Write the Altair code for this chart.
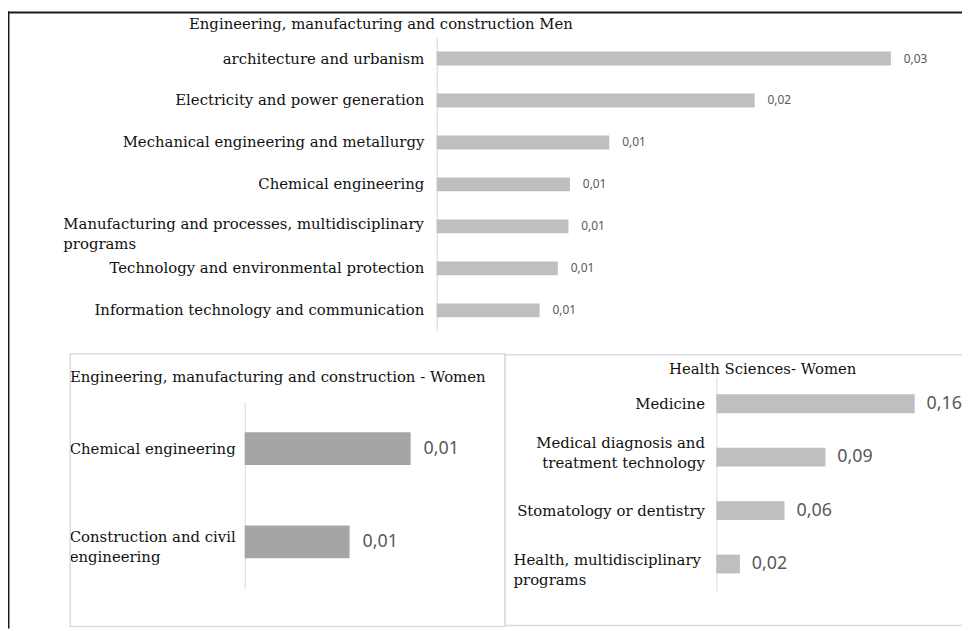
import altair as alt
import pandas as pd

# ---------------- data ----------------
men_cats = [
    "architecture and urbanism",
    "Electricity and power generation",
    "Mechanical engineering and metallurgy",
    "Chemical engineering",
    "Manufacturing and processes, multidisciplinary|programs",
    "Technology and environmental protection",
    "Information technology and communication",
]
men_vals = [0.030, 0.021, 0.0114, 0.0088, 0.0087, 0.0080, 0.0068]
men_labels = ["0,03", "0,02", "0,01", "0,01", "0,01", "0,01", "0,01"]

weng_cats = ["Chemical engineering", "Construction and civil|engineering"]
weng_vals = [0.0125, 0.0079]
weng_labels = ["0,01", "0,01"]

health_cats = [
    "Medicine",
    "Medical diagnosis and|treatment technology",
    "Stomatology or dentistry",
    "Health, multidisciplinary|programs",
]
health_vals = [0.16, 0.088, 0.055, 0.019]
health_labels = ["0,16", "0,09", "0,06", "0,02"]

titles = [
    "Engineering, manufacturing and construction Men",
    "Engineering, manufacturing and construction - Women",
    "Health Sciences- Women",
]

SERIF = "DejaVu Serif"
SANS = "Noto Sans"
TXT = "#111111"
FS = 15
MULTI = "indexof(datum.value, '|') >= 0"


def panel(cats, vals, labels, xdom, xrange, yrange, bar_h, bar_color,
          axis_offset, label_pad, val_size, dx, align_test, align_pad, label_offset):
    df = pd.DataFrame({"cat": cats, "v": vals, "lbl": labels})
    yaxis = alt.Axis(
        orient="left",
        offset=axis_offset,
        title=None,
        ticks=False,
        grid=False,
        domainColor="#d9d9d9",
        domainWidth=1,
        labelFont=SERIF,
        labelFontSize=FS,
        labelColor=TXT,
        labelLimit=600,
        labelExpr="split(datum.label, '|')",
        labelLineHeight=20,
        labelBaseline="middle",
        labelAlign={"condition": {"test": align_test, "value": "left"}, "value": "right"},
        labelPadding={"condition": {"test": align_test, "value": align_pad}, "value": label_pad},
        labelOffset=label_offset,
    )
    y = alt.Y("cat:N", scale=alt.Scale(domain=cats, range=yrange, paddingInner=0, paddingOuter=0),
              axis=yaxis, sort=None)
    x = alt.X("v:Q", scale=alt.Scale(domain=xdom, range=xrange, nice=False, zero=True), axis=None)
    bars = alt.Chart(df).mark_bar(height=bar_h, color=bar_color).encode(x=x, y=y)
    text = alt.Chart(df).mark_text(
        align="left", baseline="middle", dx=dx, font=SANS, fontSize=val_size, color="#595959"
    ).encode(x=x, y=y, text="lbl:N")
    return alt.layer(bars, text)


top = panel(men_cats, men_vals, men_labels, [0, 0.03], [432.3, 890.3], [27.2, 323.4], 14, "#bfbfbf",
            -432.3, 13, 12, 13, MULTI, 377,
            {"condition": {"test": MULTI, "value": -2}, "value": 0})

bl = panel(weng_cats, weng_vals, weng_labels, [0, 0.015], [238.7, 439.5], [394.7, 582.7], 33, "#a5a5a5",
           -238.7, 11, 18, 13, "true", 177,
           {"condition": {"test": MULTI, "value": -5}, "value": 0})

br = panel(health_cats, health_vals, health_labels, [0, 0.2], [714.3, 964.3], [369.5, 585.0], 19, "#bfbfbf",
           -714.3, 12, 18, 12, "indexof(datum.value, 'Health') === 0", 205,
           {"condition": [
               {"test": "indexof(datum.value, 'Medical') === 0", "value": -14},
               {"test": "indexof(datum.value, 'Health') === 0", "value": -4},
           ], "value": 0})

one = pd.DataFrame({"a": [0]})


def title_text(t, xpos, ypos):
    return alt.Chart(pd.DataFrame({"t": [t]})).mark_text(
        font=SERIF, fontSize=FS, color=TXT, align="center", baseline="middle"
    ).encode(text="t:N", x=alt.value(xpos), y=alt.value(ypos))


t1 = title_text(titles[0], 376, 13.7)
t2 = title_text(titles[1], 272, 369.3)
t3 = title_text(titles[2], 761, 361.3)

box_l = alt.Chart(one).mark_rect(fillOpacity=0, stroke="#dcdcdc", strokeWidth=1.5).encode(
    x=alt.value(62.7), x2=alt.value(501), y=alt.value(346), y2=alt.value(621))
box_r = alt.Chart(one).mark_rect(fillOpacity=0, stroke="#dcdcdc", strokeWidth=1.5).encode(
    x=alt.value(501), x2=alt.value(966), y=alt.value(347), y2=alt.value(620))
frame_top = alt.Chart(one).mark_rule(color="#1a1a1a", strokeWidth=2).encode(
    x=alt.value(0), x2=alt.value(962), y=alt.value(2))
frame_left = alt.Chart(one).mark_rule(color="#1a1a1a", strokeWidth=2).encode(
    x=alt.value(0.5), y=alt.value(1), y2=alt.value(623))

chart = alt.layer(
    box_l, box_r, frame_top, frame_left, top, bl, br, t1, t2, t3
).resolve_scale(
    x="independent", y="independent"
).properties(
    width=962, height=623, padding=0, autosize=alt.AutoSizeParams(type="none"),
    background="white"
).configure_view(stroke=None)

chart.save("out.html", embed_options={"renderer": "svg", "actions": False})
